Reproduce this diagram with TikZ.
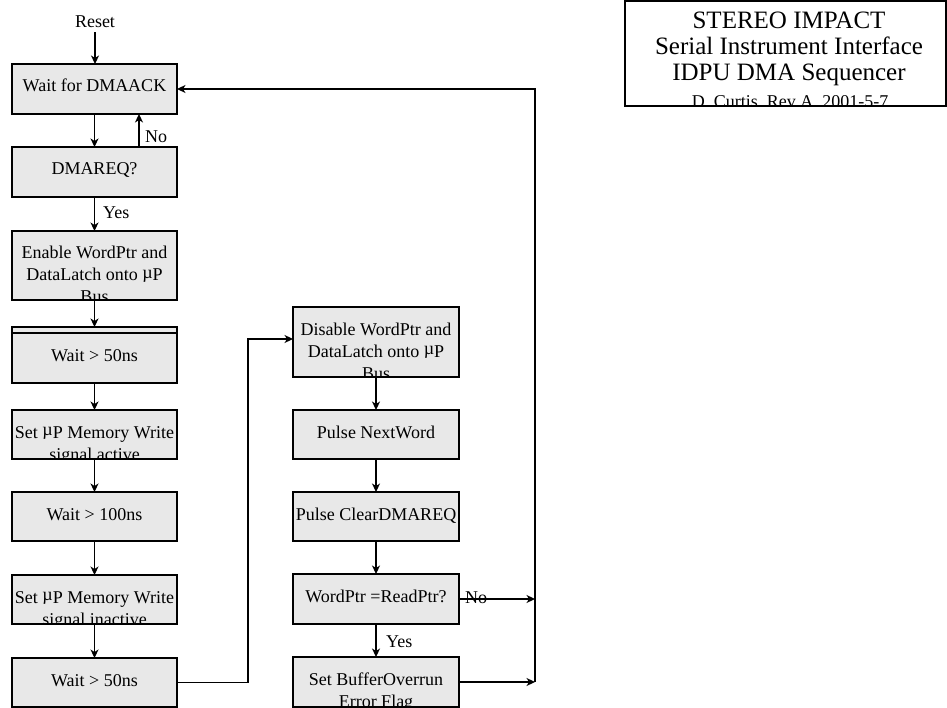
\documentclass[tikz,border=0pt]{standalone}
\usepackage{fontspec}
\setmainfont{Liberation Serif}
\usetikzlibrary{arrows.meta}
\definecolor{boxfill}{RGB}{232,232,232}
\newcommand\mup{\raisebox{0.35ex}{µ}P}
\tikzset{
  boxframe/.style={draw, line width=1.2pt, inner sep=0pt, outer sep=0pt, rectangle},
  txt/.style={inner sep=0pt, font=\fontsize{18}{22}\selectfont},
  ttl/.style={inner sep=0pt, font=\fontsize{25}{26}\selectfont},
  wire/.style={line width=1.2pt},
  conn/.style={line width=1.2pt, -{Stealth[length=8.5pt,width=8pt,inset=2.5pt]}},
  lbl/.style={inner sep=0pt, anchor=base west, font=\fontsize{18}{22}\selectfont},
}
% name, x1, y1, x2, y2, top of text, lines
\newcommand\flowbox[7]{%
  \fill[boxfill] (#2,#3) rectangle (#4,#5);
  \begin{scope}
    \clip (#2,#3) rectangle (#4,#5);
    \foreach \ln [count=\k] in {#7}{%
      \node[txt, anchor=base] (#1t\k) at ({(#2+#4)/2},{#6+28+22*(\k-1)}) {\ln};}
  \end{scope}
  \node[boxframe, minimum width={(#4-#2)*1pt}, minimum height={(#5-#3)*1pt}] (#1) at ({(#2+#4)/2},{(#3+#5)/2}) {};
}
\begin{document}
\begin{tikzpicture}[x=1pt,y=-1pt]
\useasboundingbox (0,0) rectangle (947,708);

% title block
\begin{scope}
  \clip (625,1) rectangle (946,106);
  \node[ttl, anchor=base] (t1) at (789,29) {STEREO IMPACT};
  \node[ttl, anchor=base] (t2) at (789,55) {Serial Instrument Interface};
  \node[ttl, anchor=base] (t3) at (789,81) {IDPU DMA Sequencer};
  \node[txt, anchor=base] (t4) at (790,108) {D. Curtis, Rev A, 2001-5-7};
\end{scope}
\node[boxframe, minimum width=321pt, minimum height=105pt] (title) at (785.5,53.5) {};

% left column
\node[txt, anchor=base] (reset) at (95,28) {Reset};
\flowbox{dmaack}{12}{64}{177}{114}{64}{{Wait for DMAACK}}
\flowbox{dmareq}{12}{147}{177}{197}{147}{{DMAREQ?}}
\flowbox{enable}{12}{231}{177}{300}{231}{{Enable WordPtr and},{DataLatch onto \mup},{Bus}}
\flowbox{waitA}{12}{327}{177}{383}{333}{{Wait > 50ns}}
\draw[wire] ([yshift=-6pt]waitA.north west) -- ([yshift=-6pt]waitA.north east);
\flowbox{setact}{12}{410}{177}{459}{410}{{Set \mup\ Memory Write},{signal active}}
\flowbox{waitB}{12}{492}{177}{541}{492}{{Wait > 100ns}}
\flowbox{setinact}{12}{575}{177}{624}{575}{{Set \mup\ Memory Write},{signal inactive}}
\flowbox{waitC}{12}{658}{177}{707}{658}{{Wait > 50ns}}

% right column
\flowbox{disable}{293}{307}{459}{377}{307}{{Disable WordPtr and},{DataLatch onto \mup},{Bus}}
\flowbox{next}{293}{410}{459}{459}{410}{{Pulse NextWord}}
\flowbox{clear}{293}{492}{459}{541}{492}{{Pulse ClearDMAREQ}}
\flowbox{cmp}{293}{574}{459}{624}{574}{{WordPtr =ReadPtr?}}
\flowbox{overrun}{293}{657}{459}{707}{657}{{Set BufferOverrun},{Error Flag}}

% connectors left
\draw[conn] ([yshift=-4pt]reset.south) -- (reset.south |- dmaack.north);
\draw[conn] (dmaack.south) -- (dmareq.north);
\draw[conn] ([xshift=44.5pt]dmareq.north) -- ([xshift=44.5pt]dmaack.south);
\node[lbl] (no1) at (145,143) {No};
\draw[conn] (dmareq.south) -- (enable.north);
\node[lbl] (yes1) at (103,219) {Yes};
\draw[conn] (enable.south) -- (waitA.north);
\draw[conn] (waitA.south) -- (setact.north);
\draw[conn] (setact.south) -- (waitB.north);
\draw[conn] (waitB.south) -- (setinact.north);
\draw[conn] (setinact.south) -- (waitC.north);

\coordinate (j1) at (248,339);
\draw[conn] (waitC.east) -| (j1) -- (j1 -| disable.west);

% connectors right
\draw[conn] (disable.south) -- (next.north);
\draw[conn] (next.south) -- (clear.north);
\draw[conn] (clear.south) -- (cmp.north);
\draw[conn] (cmp.south) -- (overrun.north);
\node[lbl] (yes2) at (386,647) {Yes};

\coordinate (bus) at (535,89);
\draw[conn] (cmp.east) -- (cmp.east -| bus);
\node[lbl] (no2) at (465,603) {No};
\draw[conn] (overrun.east) -- (overrun.east -| bus);
\draw[conn] (overrun.east -| bus) -- (bus) -- (dmaack.east);
\end{tikzpicture}
\end{document}
